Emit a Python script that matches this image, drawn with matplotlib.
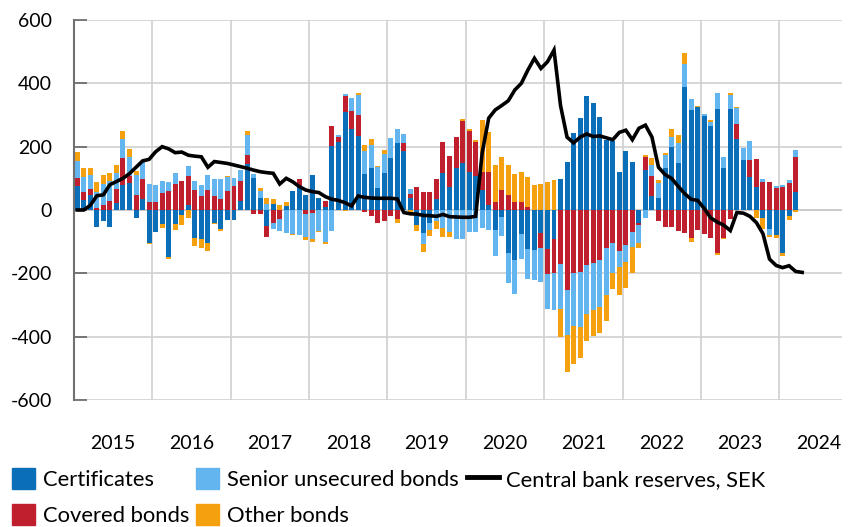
import matplotlib
matplotlib.use("Agg")
import matplotlib.pyplot as plt
from matplotlib.patches import Patch
from matplotlib.lines import Line2D
import numpy as np

plt.rcParams["font.family"] = ["Lato", "DejaVu Sans"]
plt.rcParams["axes.unicode_minus"] = False

# monthly values, Jan 2015 - Mar 2024 (SEK bn)
certificates = [
    76, 32, 47, -53, -34, -55, 21, 79, 84, -24, 34, -105,
    -68, -44, -147, -45, -16, 16, -87, -92, -103, -40, -61, -30,
    -32, 29, 145, 100, 37, -50, 18, 0, 14, 61, 76, 47,
    110, 37, 8, 203, 214, 310, 255, 234, 113, 134, 71, 116,
    165, 213, 186, 37, -47, -72, -42, 34, 116, 72, 132, 150,
    121, 107, 63, 16, -63, -21, -135, -158, -76, -124, -126, -72,
    -123, -93, 98, 153, 244, 290, 360, 337, 293, 221, 218, 121,
    186, 153, -40, 126, 45, 39, 134, 198, 150, 387, 316, 324,
    298, 266, 318, 132, 319, 224, 158, 105, 72, -25, -61, -80,
    -135, -19, 58,
]
covered = [
    26, 26, 18, 7, 16, 29, 45, 84, 24, 47, 64, 26,
    26, 55, 60, 82, 93, 92, 63, 44, 63, 44, 34, 61,
    76, 62, 28, -14, -14, -34, -40, -28, 0, 0, 21, -13,
    -10, 0, 21, 63, 16, 50, 58, 66, -5, -19, -40, -34,
    -19, -28, 26, 13, 72, 56, 58, 63, 100, 100, 97, 132,
    130, 108, 58, 105, 26, 63, 47, 26, 24, 11, 0, -47,
    -78, -105, -171, -253, -198, -195, -174, -168, -158, -121, -105, -128,
    -110, -68, -7, 42, 62, -34, -53, -53, -65, -72, -89, -63,
    -77, -89, -137, -89, -29, 49, 0, 53, 89, 88, 89, 68,
    72, 84, 110,
]
senior = [
    54, 45, 44, 50, 66, 62, 50, 60, 60, 63, 55, 56,
    53, 38, 30, 36, 0, 32, 30, 35, 47, 53, 63, 42,
    26, 35, 63, 15, 23, 19, -20, -37, -72, -77, -80, -72,
    -80, -66, -102, -66, 7, 7, 40, 63, 74, 72, 64, 61,
    61, 43, 27, 16, 0, -36, -20, -34, -58, -68, -93, -90,
    -68, -68, -56, -63, -82, -61, -97, -108, -80, -95, -95, -107,
    -113, -118, -143, -142, -168, -176, -153, -147, -147, -147, -93, -53,
    -53, -49, -56, -26, 35, 47, 40, 34, 63, 74, 34, 0,
    5, 13, 53, 35, 44, 49, 39, 61, 0, 11, -18, 7,
    7, 11, 23,
]
other = [
    26, 30, 24, 32, 28, 26, 26, 26, 24, 13, 0, -3,
    -3, -14, -7, -18, -30, -24, -26, -27, -25, -4, -4, 4,
    0, 0, 13, 0, 10, 18, 16, 17, 10, -3, 0, -10,
    -12, -3, -6, 0, 0, -4, 0, 8, 17, 19, 4, 11,
    0, -14, 0, -5, -18, -24, -20, -27, -28, -18, 0, 4,
    4, 5, 163, 126, 116, 105, 95, 89, 95, 92, 79, 82,
    90, 95, -88, -118, -120, -95, -86, -82, -82, -84, -53, -87,
    -84, -82, -18, 5, 21, 10, 7, 23, 23, 34, -11, 4,
    0, 5, -5, -3, 5, 3, 0, 0, -26, -36, -5, -10,
    -11, -13, -5,
]
reserves = [
    0, 0, 15, 45, 48, 80, 90, 100, 115, 135, 155, 160,
    184, 200, 193, 181, 183, 173, 170, 168, 135, 153, 150, 147,
    142, 137, 132, 126, 121, 118, 116, 82, 100, 89, 74, 63,
    58, 55, 42, 34, 30, 23, 13, 44, 40, 38, 37, 37,
    37, 35, -8, -12, -13, -17, -18, -20, -14, -21, -22, -23,
    -23, -20, 180, 290, 316, 330, 345, 379, 400, 442, 479, 447,
    468, 505, 330, 230, 212, 230, 240, 232, 234, 228, 222, 245,
    252, 222, 258, 268, 230, 135, 112, 100, 75, 52, 34, 30,
    5, -25, -38, -48, -65, -8, -10, -20, -40, -75, -155, -175,
    -182, -176, -194, -197,
]
years = [str(y) for y in range(2015, 2025)]

series = [
    ("Certificates", certificates, "#0A6EB9"),
    ("Covered bonds", covered, "#C0202E"),
    ("Senior unsecured bonds", senior, "#63B5F0"),
    ("Other bonds", other, "#F5A00F"),
]

fig = plt.figure(figsize=(8.49, 5.27), dpi=100)
ax = fig.add_axes([74 / 849, 1 - 400 / 527, (842 - 74) / 849, 380 / 527])

x = np.arange(len(certificates)) + 0.5
pos_base = np.zeros(len(x))
neg_base = np.zeros(len(x))
for name, vals, color in series:
    v = np.array(vals, dtype=float)
    p = np.where(v > 0, v, 0)
    n = np.where(v < 0, v, 0)
    ax.bar(x, p, 0.76, bottom=pos_base, color=color, linewidth=0, zorder=2)
    ax.bar(x, n, 0.76, bottom=neg_base, color=color, linewidth=0, zorder=2)
    pos_base += p
    neg_base += n

xl = np.arange(len(reserves)) + 0.5
ax.plot(xl, reserves, color="black", lw=2.6, solid_joinstyle="miter", zorder=3)

ax.set_xlim(0, 117.6)
ax.set_ylim(-600, 600)
ax.set_yticks(range(-600, 601, 200))
ax.set_xticks(np.arange(0, 109, 12))
ax.set_xticklabels([])
ax.set_xticks(np.arange(6, 115, 12), minor=True)
ax.set_xticklabels(years, minor=True)
ax.tick_params(axis="x", which="both", length=0, pad=25, labelsize=14)
ax.tick_params(axis="y", direction="in", length=9, width=1.2, color="#666666",
               pad=16, labelsize=14)
ax.grid(True, which="major", color="#D0D0D0", lw=1.2, zorder=0)
for s in ["top", "right", "bottom"]:
    ax.spines[s].set_visible(False)
ax.spines["left"].set_color("#707070")
ax.spines["left"].set_linewidth(1.5)
ax.axhline(0, color="#AAAAAA", lw=1.2, zorder=1)

# legend: three columns placed by hand
leg_kw = dict(loc="upper left", frameon=False, fontsize=15.8, borderpad=0,
              borderaxespad=0, labelspacing=0.62, handletextpad=0.35)
col1 = [Patch(color=series[0][2], label=series[0][0]),
        Patch(color=series[1][2], label=series[1][0])]
col2 = [Patch(color=series[2][2], label=series[2][0]),
        Patch(color=series[3][2], label=series[3][0])]
col3 = [Line2D([], [], color="black", lw=3.5, label="Central bank reserves, SEK")]
top = 1 - 468 / 527
fig.legend(handles=col1, bbox_to_anchor=(12 / 849, top),
           handlelength=1.05, handleheight=1.1, **leg_kw)
fig.legend(handles=col2, bbox_to_anchor=(196 / 849, top),
           handlelength=1.05, handleheight=1.1, **leg_kw)
fig.legend(handles=col3, bbox_to_anchor=(467 / 849, top),
           handlelength=1.45, handleheight=1.1, **leg_kw)

fig.savefig("out.png", dpi=100)
